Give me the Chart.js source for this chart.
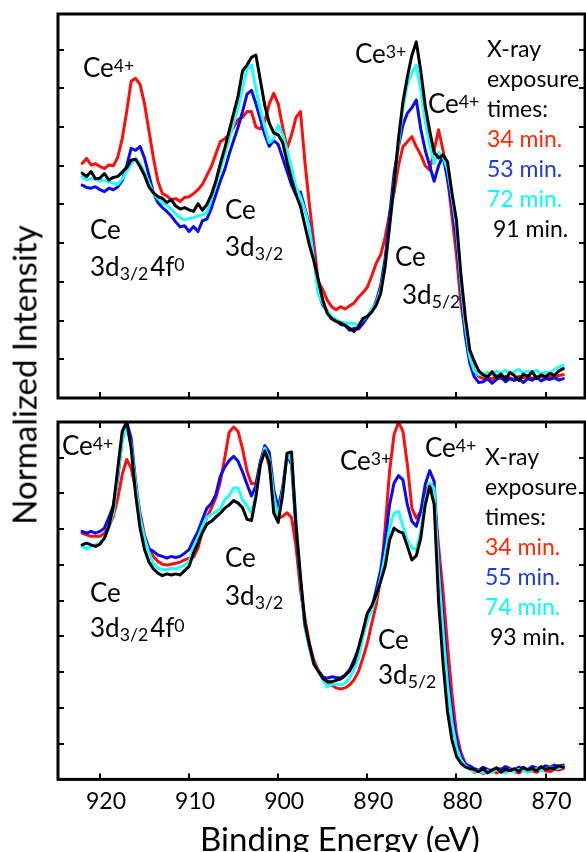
<!DOCTYPE html>
<html>
<head>
<meta charset="utf-8">
<title>Ce 3d XPS under X-ray exposure</title>
<script src="https://cdn.jsdelivr.net/npm/chart.js@4.4.1/dist/chart.umd.min.js"></script>
<style>
  html, body { margin: 0; padding: 0; background: #fff; overflow: hidden; }
  #app { position: relative; width: 586px; height: 852px; overflow: hidden; font-family: Lato, sans-serif; color: #000; }
  canvas { position: absolute; left: 0; }
  #chart-top { top: 0; }
  #chart-bottom { top: 400px; }
  .note, .key { position: absolute; white-space: nowrap; line-height: 1; }
  .note { font-size: 26px; }
  .key { font-size: 23px; }
  .note sup { font-size: 0.68em; vertical-align: 0.3em; line-height: 0; }
  .note sub { font-size: 0.68em; vertical-align: -0.22em; line-height: 0; margin-right: 2px; }
  #y-title { position: absolute; left: 24px; top: 375px; font-size: 33px; line-height: 1; white-space: nowrap;
             transform: translate(-50%, -50%) rotate(-90deg); }
  #x-title { position: absolute; left: 340px; top: 822px; font-size: 33px; line-height: 1; white-space: nowrap;
             transform: translateX(-50%); }
</style>
</head>
<body>
<div id="app">
  <canvas id="chart-top" width="586" height="400"></canvas>
  <canvas id="chart-bottom" width="586" height="452"></canvas>
  <div id="y-title">Normalized Intensity</div>
  <div id="x-title">Binding Energy (eV)</div>

  <!-- upper panel labels -->
  <div class="note" style="left:83px;top:54px">Ce<sup>4+</sup></div>
  <div class="note" style="left:90px;top:216px">Ce</div>
  <div class="note" style="left:90px;top:253px">3d<sub>3/2</sub>4f<sup>0</sup></div>
  <div class="note" style="left:225px;top:196px">Ce</div>
  <div class="note" style="left:225px;top:233px">3d<sub>3/2</sub></div>
  <div class="note" style="left:355px;top:40px">Ce<sup>3+</sup></div>
  <div class="note" style="left:428px;top:90px">Ce<sup>4+</sup></div>
  <div class="note" style="left:395px;top:243px">Ce</div>
  <div class="note" style="left:402px;top:281px">3d<sub>5/2</sub></div>
  <div class="key" style="left:487px;top:37px">X-ray</div>
  <div class="key" style="left:487px;top:67px">exposure</div>
  <div class="key" style="left:487px;top:97px">times:</div>
  <div class="key" style="left:487px;top:127px;color:#ff2a00">34 min.</div>
  <div class="key" style="left:487px;top:157px;color:#1e3cdc">53 min.</div>
  <div class="key" style="left:487px;top:187px;color:#00ffff">72 min.</div>
  <div class="key" style="left:493px;top:217px">91 min.</div>

  <!-- lower panel labels -->
  <div class="note" style="left:62px;top:432px">Ce<sup>4+</sup></div>
  <div class="note" style="left:90px;top:579px">Ce</div>
  <div class="note" style="left:90px;top:614px">3d<sub>3/2</sub>4f<sup>0</sup></div>
  <div class="note" style="left:225px;top:544px">Ce</div>
  <div class="note" style="left:225px;top:582px">3d<sub>3/2</sub></div>
  <div class="note" style="left:340px;top:447px">Ce<sup>3+</sup></div>
  <div class="note" style="left:425px;top:434px">Ce<sup>4+</sup></div>
  <div class="note" style="left:378px;top:626px">Ce</div>
  <div class="note" style="left:378px;top:661px">3d<sub>5/2</sub></div>
  <div class="key" style="left:485px;top:445px">X-ray</div>
  <div class="key" style="left:485px;top:475px">exposure</div>
  <div class="key" style="left:485px;top:505px">times:</div>
  <div class="key" style="left:485px;top:535px;color:#ff2a00">34 min.</div>
  <div class="key" style="left:485px;top:565px;color:#1e3cdc">55 min.</div>
  <div class="key" style="left:485px;top:595px;color:#00ffff">74 min.</div>
  <div class="key" style="left:490px;top:625px">93 min.</div>
</div>
<script>
// binding energy grid (eV), shared by every spectrum
const ENERGY = [
  922, 921.5, 921, 920.5, 920, 919.5, 919, 918.5, 918, 917.5,
  917, 916.5, 916, 915.5, 915, 914.5, 914, 913.5, 913, 912.5,
  912, 911.5, 911, 910.5, 910, 909.5, 909, 908.5, 908, 907.5,
  907, 906.5, 906, 905.5, 905, 904.5, 904, 903.5, 903, 902.5,
  902, 901.5, 901, 900.5, 900, 899.5, 899, 898.5, 898, 897.5,
  897, 896.5, 896, 895.5, 895, 894.5, 894, 893.5, 893, 892.5,
  892, 891.5, 891, 890.5, 890, 889.5, 889, 888.5, 888, 887.5,
  887, 886.5, 886, 885.5, 885, 884.5, 884, 883.5, 883, 882.5,
  882, 881.5, 881, 880.5, 880, 879.5, 879, 878.5, 878, 877.5,
  877, 876.5, 876, 875.5, 875, 874.5, 874, 873.5, 873, 872.5,
  872, 871.5, 871, 870.5, 870, 869.5, 869, 868.5, 868,
];

const X_TICKS = [920, 910, 900, 890, 880, 870];
const Y_TICKS = [1, 2, 3, 4, 5, 6, 7, 8, 9];

// upper sample: 34, 53, 72, 91 min
const TOP_34 = [
  6.06, 6.19, 6.02, 6.05, 5.98, 5.93, 6.02, 6.00, 6.22, 6.70,
  7.40, 8.18, 8.26, 8.10, 7.60, 6.90, 6.20, 5.60, 5.28, 5.22,
  5.12, 5.15, 5.08, 5.18, 5.20, 5.28, 5.38, 5.52, 5.75, 5.98,
  6.30, 6.62, 6.70, 6.80, 7.00, 7.20, 7.25, 7.40, 7.40, 7.00,
  6.95, 7.15, 7.60, 7.87, 7.60, 7.00, 6.45, 6.80, 7.25, 7.40,
  6.10, 5.00, 4.00, 3.00, 2.80, 2.53, 2.36, 2.28, 2.36, 2.30,
  2.38, 2.45, 2.60, 2.72, 2.86, 3.15, 3.48, 3.70, 4.15, 4.75,
  5.30, 6.00, 6.49, 6.62, 6.75, 6.49, 6.28, 6.00, 5.89, 6.40,
  6.93, 6.40, 5.70, 4.70, 3.70, 2.45, 1.67, 1.10, 0.72, 0.55,
  0.50, 0.55, 0.48, 0.58, 0.50, 0.56, 0.52, 0.48, 0.56, 0.52,
  0.58, 0.50, 0.54, 0.56, 0.50, 0.55, 0.52, 0.58, 0.60,
];
const TOP_53 = [
  5.50, 5.44, 5.42, 5.46, 5.38, 5.33, 5.42, 5.38, 5.45, 5.62,
  6.00, 6.45, 6.40, 6.50, 6.20, 5.75, 5.30, 5.05, 4.92, 4.82,
  4.70, 4.55, 4.42, 4.45, 4.30, 4.43, 4.30, 4.58, 4.62, 4.90,
  5.25, 5.60, 5.90, 6.30, 6.65, 7.00, 7.40, 7.85, 7.95, 7.60,
  7.20, 6.80, 6.50, 6.65, 6.55, 6.20, 5.85, 5.50, 5.25, 5.32,
  4.90, 4.45, 3.70, 2.75, 2.40, 2.25, 2.05, 2.00, 1.90, 1.88,
  1.75, 1.80, 1.78, 1.92, 2.08, 2.25, 2.50, 2.90, 3.60, 4.70,
  5.80, 6.50, 7.05, 7.36, 7.50, 7.70, 6.95, 6.40, 6.00, 5.60,
  6.00, 6.25, 5.65, 5.00, 4.10, 2.80, 1.60, 0.90, 0.55, 0.40,
  0.42, 0.50, 0.38, 0.48, 0.55, 0.42, 0.50, 0.45, 0.52, 0.40,
  0.50, 0.46, 0.55, 0.44, 0.50, 0.48, 0.52, 0.46, 0.50,
];
const TOP_72 = [
  5.72, 5.63, 5.66, 5.68, 5.60, 5.63, 5.58, 5.55, 5.52, 5.66,
  5.85, 6.05, 6.18, 6.05, 5.82, 5.55, 5.28, 5.15, 5.05, 4.98,
  4.88, 4.75, 4.65, 4.60, 4.64, 4.66, 4.70, 4.73, 4.80, 5.15,
  5.50, 5.90, 6.28, 6.70, 7.10, 7.50, 8.00, 8.50, 8.60, 8.00,
  7.45, 7.00, 6.60, 6.70, 7.05, 6.80, 6.40, 5.95, 5.45, 5.20,
  4.85, 4.40, 3.60, 2.70, 2.45, 2.25, 2.10, 2.02, 1.96, 1.94,
  1.94, 1.92, 1.89, 2.02, 2.11, 2.30, 2.45, 2.80, 3.40, 4.40,
  5.50, 6.55, 7.50, 8.10, 8.40, 8.60, 7.95, 7.15, 6.55, 6.06,
  6.35, 6.24, 5.90, 5.20, 4.40, 3.00, 1.85, 1.05, 0.70, 0.60,
  0.62, 0.66, 0.60, 0.70, 0.64, 0.72, 0.62, 0.68, 0.74, 0.64,
  0.70, 0.66, 0.72, 0.62, 0.68, 0.64, 0.74, 0.80, 0.85,
];
const TOP_91 = [
  5.81, 5.72, 5.85, 5.66, 5.68, 5.80, 5.63, 5.70, 5.72, 5.84,
  5.95, 6.15, 6.17, 5.98, 5.75, 5.45, 5.30, 5.20, 5.16, 5.05,
  5.12, 4.96, 4.88, 4.92, 4.86, 4.82, 5.02, 4.85, 5.00, 5.25,
  5.60, 6.05, 6.45, 6.90, 7.35, 7.80, 8.45, 8.60, 8.80, 8.86,
  8.20, 7.55, 7.10, 6.85, 6.80, 6.60, 6.10, 5.65, 5.25, 4.95,
  4.45, 3.95, 3.55, 3.05, 2.53, 2.19, 2.05, 1.98, 1.94, 1.88,
  1.80, 1.72, 1.85, 2.05, 2.11, 2.22, 2.40, 2.70, 3.40, 4.45,
  5.50, 6.70, 7.65, 8.30, 8.85, 9.20, 8.45, 7.55, 6.90, 6.35,
  6.20, 6.28, 6.10, 5.30, 4.60, 3.20, 2.09, 1.24, 0.95, 0.70,
  0.60, 0.55, 0.68, 0.52, 0.62, 0.48, 0.66, 0.58, 0.45, 0.62,
  0.55, 0.68, 0.50, 0.60, 0.55, 0.64, 0.58, 0.70, 0.76,
];

// lower sample: 34, 55, 74, 93 min
const BOT_34 = [
  6.89, 6.84, 6.80, 6.80, 6.80, 6.89, 7.08, 7.36, 7.87, 8.53,
  8.95, 8.71, 8.11, 7.45, 6.84, 6.47, 6.24, 6.10, 6.02, 6.00,
  6.02, 6.05, 6.08, 6.14, 6.19, 6.22, 6.47, 6.96, 7.33, 7.59,
  7.88, 8.32, 8.99, 9.71, 9.86, 9.74, 9.25, 8.63, 8.27, 8.29,
  8.85, 9.25, 8.76, 7.92, 7.31, 7.36, 7.46, 7.33, 6.52, 5.30,
  4.51, 3.81, 3.34, 3.06, 2.87, 2.73, 2.64, 2.56, 2.53, 2.56,
  2.64, 2.78, 3.01, 3.39, 3.81, 4.37, 4.88, 5.63, 7.03, 8.62,
  9.65, 10.0, 9.74, 8.80, 7.59, 7.31, 7.50, 8.06, 8.25, 7.92,
  6.52, 5.26, 3.76, 2.40, 1.30, 0.75, 0.45, 0.35, 0.20, 0.24,
  0.16, 0.22, 0.26, 0.18, 0.24, 0.20, 0.28, 0.22, 0.18, 0.26,
  0.22, 0.24, 0.20, 0.28, 0.24, 0.22, 0.28, 0.26, 0.30,
];
const BOT_55 = [
  6.94, 6.89, 6.94, 6.89, 6.94, 7.03, 7.33, 7.66, 8.43, 9.55,
  10.0, 9.55, 8.34, 7.36, 6.75, 6.45, 6.38, 6.28, 6.24, 6.19,
  6.24, 6.21, 6.24, 6.33, 6.43, 6.70, 6.94, 7.27, 7.59, 7.72,
  7.97, 8.48, 8.74, 8.92, 9.04, 8.90, 8.60, 8.26, 7.93, 8.22,
  8.90, 9.34, 9.15, 8.11, 7.59, 8.17, 9.11, 8.80, 7.03, 5.49,
  4.28, 3.72, 3.23, 3.04, 2.87, 2.83, 2.87, 2.85, 2.84, 2.92,
  3.06, 3.34, 3.62, 4.09, 4.46, 4.79, 5.30, 5.86, 6.66, 7.68,
  8.29, 8.50, 8.38, 7.68, 7.22, 7.08, 7.50, 8.25, 8.64, 8.34,
  6.05, 4.51, 2.96, 1.90, 1.10, 0.65, 0.42, 0.38, 0.30, 0.26,
  0.34, 0.28, 0.24, 0.32, 0.28, 0.36, 0.30, 0.26, 0.34, 0.30,
  0.28, 0.36, 0.32, 0.30, 0.38, 0.34, 0.40, 0.36, 0.40,
];
const BOT_74 = [
  6.52, 6.45, 6.52, 6.56, 6.61, 6.75, 7.08, 7.45, 8.53, 9.46,
  9.88, 9.36, 8.25, 7.31, 6.75, 6.33, 6.05, 5.91, 5.88, 5.86,
  5.91, 5.89, 5.94, 6.00, 6.10, 6.47, 6.77, 7.08, 7.33, 7.41,
  7.49, 7.57, 7.82, 7.95, 8.15, 8.15, 7.82, 7.65, 7.45, 7.97,
  8.80, 9.27, 8.94, 7.92, 7.33, 8.06, 9.08, 8.92, 7.31, 5.58,
  4.32, 3.67, 3.23, 3.06, 2.78, 2.59, 2.66, 2.66, 2.64, 2.69,
  2.83, 3.06, 3.39, 3.95, 4.46, 4.74, 5.12, 5.63, 6.28, 7.03,
  7.45, 7.50, 7.08, 6.70, 6.49, 6.42, 6.94, 7.78, 8.29, 8.15,
  5.77, 4.14, 2.64, 1.60, 0.90, 0.55, 0.38, 0.30, 0.22, 0.26,
  0.18, 0.24, 0.20, 0.28, 0.22, 0.18, 0.26, 0.22, 0.28, 0.24,
  0.20, 0.26, 0.30, 0.24, 0.28, 0.34, 0.30, 0.32, 0.36,
];
const BOT_93 = [
  6.56, 6.61, 6.56, 6.52, 6.58, 6.75, 7.08, 7.64, 8.71, 9.74,
  10.0, 9.27, 7.97, 7.03, 6.43, 6.08, 5.89, 5.77, 5.70, 5.75,
  5.72, 5.75, 5.72, 5.84, 5.96, 6.33, 6.61, 6.91, 7.14, 7.22,
  7.34, 7.45, 7.59, 7.68, 7.80, 7.73, 7.60, 7.28, 7.24, 7.90,
  8.80, 9.19, 8.87, 7.46, 7.19, 7.97, 9.13, 9.16, 7.10, 5.68,
  4.37, 3.76, 3.23, 3.03, 2.83, 2.73, 2.73, 2.77, 2.81, 2.90,
  3.03, 3.25, 3.67, 4.14, 4.65, 4.86, 5.16, 5.54, 5.96, 6.70,
  7.03, 6.94, 6.89, 6.52, 6.14, 6.26, 6.75, 7.68, 8.20, 7.70,
  4.98, 3.25, 1.90, 1.10, 0.65, 0.45, 0.35, 0.30, 0.28, 0.22,
  0.30, 0.18, 0.26, 0.32, 0.20, 0.28, 0.24, 0.30, 0.22, 0.34,
  0.26, 0.30, 0.24, 0.36, 0.28, 0.32, 0.30, 0.38, 0.34,
];

const COLORS = ["#ff0d0d", "#0b0bf0", "#1affff", "#000000"];
const X_MIN = 865.57;
const X_MAX = 924.71;
const TICK_LEN = 6;

Chart.defaults.font.family = "Lato, sans-serif";
Chart.defaults.color = "#000";

// first spectrum ends up at the bottom of the stack, longest exposure on top
function lineSets(series) {
  return series.map((values, i) => ({
    data: values.map((v, k) => ({ x: ENERGY[k], y: v })),
    borderColor: COLORS[i],
    borderWidth: 3,
    pointRadius: 0,
    borderJoinStyle: "round",
    borderCapStyle: "round",
    order: series.length - 1 - i,
  }));
}

function fixedTicks(values) {
  return (axis) => { axis.ticks = values.map((value) => ({ value })); };
}

// heavy box around the plot area with inward tick marks
const panelFrame = {
  id: "panelFrame",
  afterDraw(chart, args, opts) {
    const { ctx, chartArea: a, scales: { x, y } } = chart;
    ctx.save();
    ctx.strokeStyle = "#000";
    ctx.lineWidth = 2;
    ctx.beginPath();
    Y_TICKS.forEach((v) => {
      const py = Math.round(y.getPixelForValue(v));
      ctx.moveTo(a.left, py); ctx.lineTo(a.left + TICK_LEN, py);
      ctx.moveTo(a.right, py); ctx.lineTo(a.right - TICK_LEN, py);
    });
    X_TICKS.forEach((v) => {
      const px = Math.round(x.getPixelForValue(v));
      if (opts.bottom) { ctx.moveTo(px, a.bottom); ctx.lineTo(px, a.bottom - TICK_LEN); }
      if (opts.top) { ctx.moveTo(px, a.top); ctx.lineTo(px, a.top + TICK_LEN); }
    });
    ctx.stroke();
    ctx.lineWidth = 3;
    ctx.strokeRect(a.left, a.top, a.right - a.left, a.bottom - a.top);
    ctx.restore();
  },
};

function makePanel(canvasId, series, yMax, padding, frameTicks, xAxis) {
  return new Chart(document.getElementById(canvasId), {
    type: "line",
    data: { datasets: lineSets(series) },
    plugins: [panelFrame],
    options: {
      responsive: false,
      animation: false,
      devicePixelRatio: 1,
      events: [],
      layout: { padding },
      plugins: { legend: { display: false }, tooltip: { enabled: false }, panelFrame: frameTicks },
      scales: {
        x: Object.assign({
          type: "linear",
          reverse: true,
          min: X_MIN,
          max: X_MAX,
          afterBuildTicks: fixedTicks(X_TICKS),
        }, xAxis),
        y: { min: 0, max: yMax, display: false },
      },
    },
  });
}

makePanel("chart-top", [TOP_34, TOP_53, TOP_72, TOP_91], 9.92,
  { left: 58, top: 14, right: 1, bottom: 2 },
  { top: false, bottom: true },
  { display: false });

makePanel("chart-bottom", [BOT_34, BOT_55, BOT_74, BOT_93], 10,
  { left: 58, top: 22, right: 1, bottom: 29 },
  { top: true, bottom: true },
  {
    display: true,
    grid: { display: false, drawTicks: false },
    border: { display: false },
    ticks: { font: { size: 23 }, color: "#000", padding: 8, labelOffset: 6, maxRotation: 0, autoSkip: false },
  });
</script>
</body>
</html>
